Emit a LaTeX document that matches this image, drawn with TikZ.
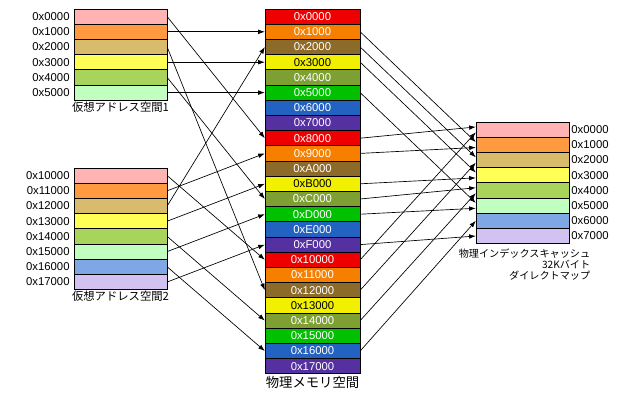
\documentclass[tikz,border=0pt]{standalone}
\usepackage{fontspec}
\setmainfont{Liberation Sans}
\newfontfamily\jpfont{Noto Sans CJK JP}
\usepackage{tikz}
\usetikzlibrary{arrows.meta,positioning}

% Light page colours (virtual spaces, cache)
\definecolor{lt0}{HTML}{FFB3B3}
\definecolor{lt1}{HTML}{FF9A40}
\definecolor{lt2}{HTML}{D8BC6C}
\definecolor{lt3}{HTML}{FFFF55}
\definecolor{lt4}{HTML}{A8D45C}
\definecolor{lt5}{HTML}{C0FFC0}
\definecolor{lt6}{HTML}{7FA7E6}
\definecolor{lt7}{HTML}{D2C2F2}
% Dark page colours (physical memory)
\definecolor{dk0}{HTML}{EE0000}
\definecolor{dk1}{HTML}{F77F00}
\definecolor{dk2}{HTML}{8C6A2A}
\definecolor{dk3}{HTML}{F0F000}
\definecolor{dk4}{HTML}{7EA032}
\definecolor{dk5}{HTML}{00C000}
\definecolor{dk6}{HTML}{2262C0}
\definecolor{dk7}{HTML}{5530A0}
% Text on the dark pages
\colorlet{tx0}{white}\colorlet{tx1}{white}\colorlet{tx2}{white}\colorlet{tx3}{black}
\colorlet{tx4}{white}\colorlet{tx5}{white}\colorlet{tx6}{white}\colorlet{tx7}{white}

\begin{document}
\begin{tikzpicture}[x=0.75pt, y=-0.75pt,
  page/.style={draw=black, line width=0.5pt, minimum width=70pt, minimum height=11.4pt, inner sep=0pt, outer sep=0pt},
  addr/.style={font=\fontsize{8.5}{9}\selectfont, inner sep=1pt},
  jpcap/.style={font=\jpfont\fontsize{8.5}{9}\selectfont, inner sep=1pt},
  map/.style={-{Latex[length=5pt,width=3.5pt]}, line width=0.5pt}]
\useasboundingbox (0,0) rectangle (640,411);

% Column positions (px)
\def\vx{120.5}
\def\px{312.5}
\def\cx{522.5}
\def\rowh{15.2}

% Virtual space 1
\foreach \k in {0,...,5} {
  \node[page, fill=lt\k] (va1-\k) at (\vx, {16.6+\rowh*\k}) {};
  \node[addr, left=2pt of va1-\k] (va1-\k-a) {0x\k000};
}
\node[jpcap, below=0pt of va1-5] (va1cap) {仮想アドレス空間1};

% Virtual space 2
\foreach \k in {0,...,7} {
  \node[page, fill=lt\k] (va2-\k) at (\vx, {175.6+\rowh*\k}) {};
  \node[addr, left=2pt of va2-\k] (va2-\k-a) {0x1\k000};
}
\node[jpcap, below=0pt of va2-7] (va2cap) {仮想アドレス空間2};

% Physical memory
\foreach \h [count=\i from 0] in {0,1,2,3,4,5,6,7,8,9,A,B,C,D,E,F,10,11,12,13,14,15,16,17} {
  \pgfmathtruncatemacro\c{mod(\i,8)}
  \node[page, minimum width=71.5pt, fill=dk\c, text=tx\c, font=\fontsize{8.5}{9}\selectfont]
    (pa\i) at (\px, {16.6+\rowh*\i}) {0x\h000};
}
\node[jpcap, font=\jpfont\fontsize{10}{11}\selectfont, below=1pt of pa23] (pacap) {物理メモリ空間};

% Cache
\foreach \k in {0,...,7} {
  \node[page, fill=lt\k] (ca\k) at (\cx, {129.6+\rowh*\k}) {};
  \node[addr, right=0.5pt of ca\k] (ca\k-a) {0x\k000};
}
\node[jpcap, align=right, anchor=north east, font=\jpfont\fontsize{7.6}{8.2}\selectfont]
  (cacap) at ([xshift=17pt, yshift=-3pt]ca7.south east) {物理インデックスキャッシュ\\32Kバイト\\ダイレクトマップ};

% Virtual -> physical
\foreach \s/\t in {va1-0/pa8, va1-1/pa1, va1-2/pa18, va1-3/pa3, va1-4/pa12, va1-5/pa5,
                   va2-0/pa16, va2-1/pa9, va2-2/pa2, va2-3/pa11, va2-4/pa20, va2-5/pa13, va2-6/pa22, va2-7/pa15}
  \draw[map] (\s.east) -- (\t.west);

% Physical -> cache (index = page mod 8)
\foreach \s/\t/\d in {pa1/ca1/2pt, pa2/ca2/2pt, pa3/ca3/2pt, pa5/ca5/2pt, pa8/ca0/2pt, pa9/ca1/-2pt, pa11/ca3/-2pt,
                      pa12/ca4/2pt, pa13/ca5/-2pt, pa15/ca7/0pt, pa16/ca0/-2pt, pa18/ca2/-2pt, pa20/ca4/-2pt, pa22/ca6/0pt}
  \draw[map] (\s.east) -- ([yshift=\d]\t.west);
\end{tikzpicture}
\end{document}
